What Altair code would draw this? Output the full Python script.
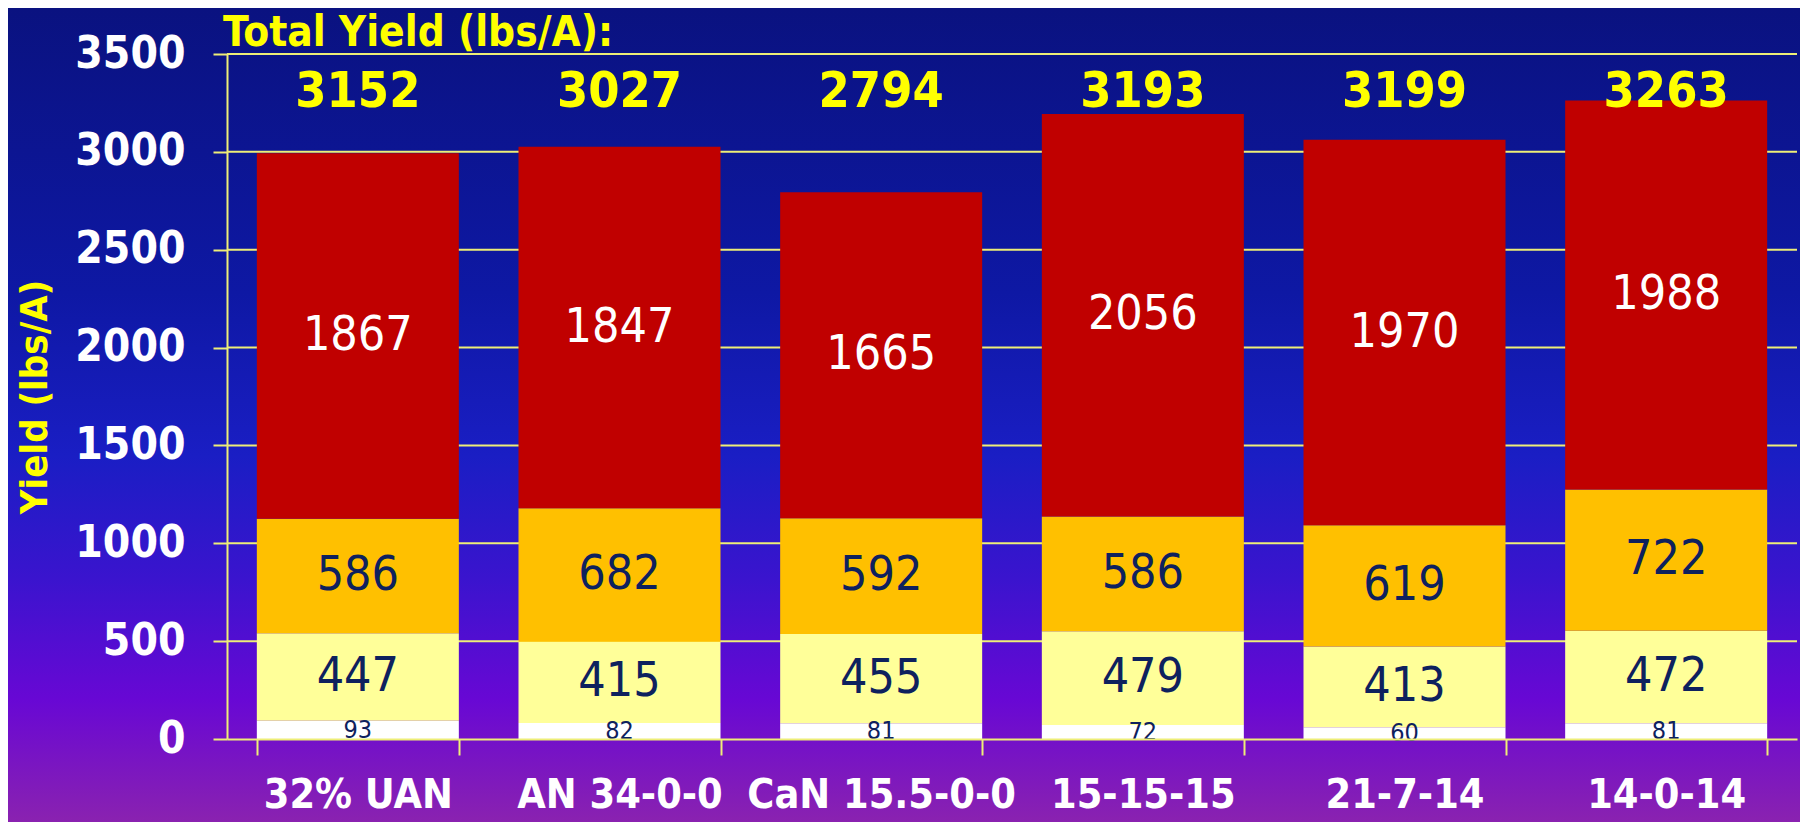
import altair as alt
import pandas as pd

# ---------------- data ----------------
categories = ["32% UAN", "AN 34-0-0", "CaN 15.5-0-0", "15-15-15", "21-7-14", "14-0-14"]
segments = ["White", "Light", "Orange", "Red"]          # bottom to top
white_vals = [93, 82, 81, 72, 60, 81]
light_vals = [447, 415, 455, 479, 413, 472]
orange_vals = [586, 682, 592, 586, 619, 722]
red_vals = [1867, 1847, 1665, 2056, 1970, 1988]
totals = [3152, 3027, 2794, 3193, 3199, 3263]
y_ticks = [0, 500, 1000, 1500, 2000, 2500, 3000, 3500]

seg_values = [white_vals, light_vals, orange_vals, red_vals]
rows = []
for si, (seg, vals) in enumerate(zip(segments, seg_values)):
    for c, v in zip(categories, vals):
        rows.append({"category": c, "segment": seg, "order": si, "value": v})
df = pd.DataFrame(rows)
df_tot = pd.DataFrame({"category": categories, "total": totals})
df_grid = pd.DataFrame({"v": y_ticks[1:]})

# ---------------- layout ----------------
W, H = 1570, 685
PAD = {"left": 219, "top": 46, "right": 3, "bottom": 83}
FONT = "Liberation Sans Narrow, DejaVu Sans Condensed, Arial Narrow, sans-serif"
YELLOW = "#FFFF00"
GRID = "#EEEE77"
NAVY = "#0E215E"

xscale = alt.Scale(domain=categories, paddingInner=0.228, paddingOuter=0.114)
yscale = alt.Scale(domain=[0, 3500], nice=False, zero=True)

y_axis = alt.Axis(values=y_ticks, format="d", title="Yield (lbs/A)", grid=False,
                  titleColor=YELLOW, titleFont=FONT, titleFontSize=38,
                  titleFontWeight="bold", titlePadding=20,
                  labelColor="white", labelFont=FONT, labelFontSize=44,
                  labelFontWeight="bold", labelPadding=28,
                  domainColor=GRID, domainWidth=2, tickColor=GRID,
                  tickWidth=2, tickSize=14, zindex=1)

bg = alt.Chart(pd.DataFrame({"a": [0]})).mark_rect(
    color=alt.Gradient(
        gradient="linear", x1=0, y1=0, x2=0, y2=1,
        stops=[
            alt.GradientStop(offset=0.0, color="#0A1280"),
            alt.GradientStop(offset=0.35, color="#0E18A4"),
            alt.GradientStop(offset=0.55, color="#1A1EC4"),
            alt.GradientStop(offset=0.70, color="#3A14CE"),
            alt.GradientStop(offset=0.85, color="#6808D4"),
            alt.GradientStop(offset=1.0, color="#8A22B0"),
        ],
    )
).encode(
    x=alt.value(-PAD["left"]), x2=alt.value(W + PAD["right"]),
    y=alt.value(-PAD["top"]), y2=alt.value(H + PAD["bottom"]),
)

grid = alt.Chart(df_grid).mark_rule(color=GRID, strokeWidth=2).encode(
    y=alt.Y("v:Q", scale=yscale, axis=y_axis),
    x=alt.value(0), x2=alt.value(W),
)

bars = alt.Chart(df).mark_bar().encode(
    x=alt.X("category:N", sort=categories, scale=xscale,
            axis=alt.Axis(title=None, labelAngle=0, labelColor="white",
                          labelFont=FONT, labelFontSize=41, labelFontWeight="bold",
                          labelPadding=20, labelLimit=0, domainColor=GRID, domainWidth=2,
                          tickColor=GRID, tickWidth=2, tickSize=16,
                          tickBand="extent", zindex=1, grid=False)),
    y=alt.Y("value:Q", stack="zero", scale=yscale, axis=y_axis),
    color=alt.Color("segment:N", scale=alt.Scale(
        domain=segments, range=["#FFFFFF", "#FFFF99", "#FFC000", "#C00000"]), legend=None),
    order=alt.Order("order:Q"),
)

seg_text = alt.Chart(df).transform_stack(
    stack="value", groupby=["category"], as_=["y0", "y1"],
    sort=[alt.SortField("order", "ascending")],
).transform_calculate(
    mid="(datum.y0 + datum.y1) / 2",
    fs="datum.segment === 'White' ? 25 : 48",
    tc="datum.segment === 'Red' ? '#FFFFFF' : '" + NAVY + "'",
).mark_text(
    font=FONT, baseline="middle", align="center"
).encode(
    x=alt.X("category:N", sort=categories, scale=xscale),
    y=alt.Y("mid:Q", scale=yscale),
    text=alt.Text("value:Q"),
    color=alt.Color("tc:N", scale=None),
    size=alt.Size("fs:Q", scale=None),
)

tot_text = alt.Chart(df_tot).mark_text(
    font=FONT, fontSize=50, fontWeight="bold", color=YELLOW,
    baseline="middle", align="center"
).encode(
    x=alt.X("category:N", sort=categories, scale=xscale),
    y=alt.datum(3305),
    text=alt.Text("total:Q"),
)

title_text = alt.Chart(pd.DataFrame({"t": ["Total Yield (lbs/A):"]})).mark_text(
    font=FONT, fontSize=42, fontWeight="bold", color=YELLOW,
    align="left", baseline="alphabetic"
).encode(
    x=alt.value(-4), y=alt.value(-8), text="t:N",
)

chart = alt.layer(bg, grid, bars, seg_text, tot_text, title_text).resolve_scale(
    color="independent"
).properties(
    width=W, height=H, padding=PAD,
    autosize=alt.AutoSizeParams(type="none"),
).configure_view(stroke=None).configure(background="#0A1280")

chart.save("out.html", embed_options={"renderer": "svg", "actions": False})
